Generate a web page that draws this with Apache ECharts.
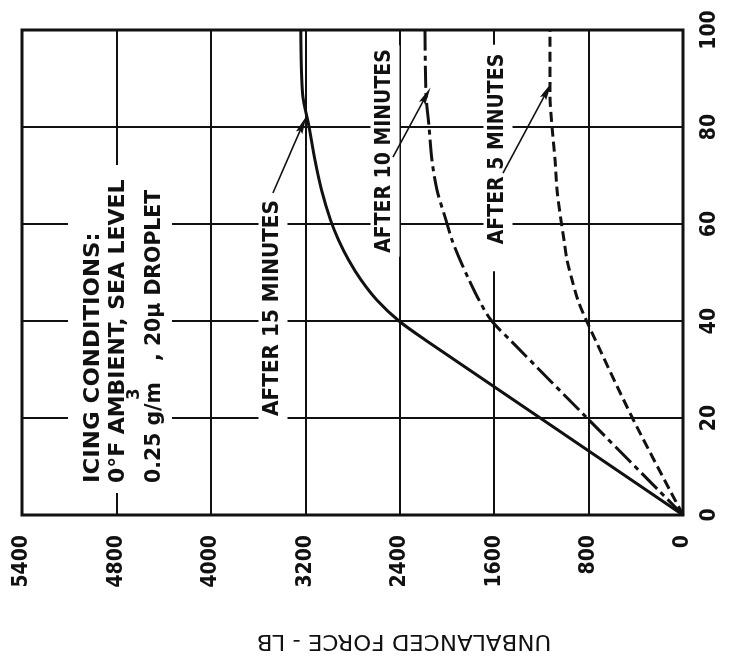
<!DOCTYPE html>
<html>
<head>
<meta charset="utf-8">
<script src="https://cdn.jsdelivr.net/npm/echarts@6/dist/echarts.min.js"></script>
<style>
  html, body { margin: 0; padding: 0; background: #fff; }
  #chart { width: 739px; height: 663px; }
</style>
</head>
<body>
<div id="chart"></div>
<script>
// Unbalanced force (lb) against percent, for three icing durations.
// Force axis runs right-to-left, percent axis bottom-to-top (page turned sideways).
const forceTickLabels = ['0', '800', '1600', '2400', '3200', '4000', '4800', '5400'];
const percentTickLabels = ['0', '20', '40', '60', '80', '100'];

const after15Force = [0, 2177, 2406, 2592, 2728, 2833, 2918, 2986, 3062, 3118, 3171, 3222, 3238];
const after15Pct   = [0, 36, 40, 44.3, 48.5, 52.6, 56.7, 60.8, 67, 73.2, 80.4, 86.6, 100];

const after10Force = [0, 805, 1449, 1627, 1728, 1813, 1889, 1957, 2008, 2084, 2127, 2152, 2177, 2186];
const after10Pct   = [0, 19.8, 35.7, 40.2, 44.3, 48.5, 52.6, 56.7, 60.8, 67, 73.2, 80.2, 86.6, 100];

const after5Force = [0, 424, 813, 890, 940, 983, 1008, 1034, 1067, 1084, 1110, 1127, 1127];
const after5Pct   = [0, 19.8, 39.8, 44.3, 48.5, 52.6, 56.7, 60.8, 67, 73.2, 80.2, 86.6, 100];

// Leader arrows: [fromForce, fromPct, toForce, toPct]
const arrow15 = [3474, 66.4, 3222, 80.5];
const arrow10 = [2457, 73.8, 2175, 86.5];
const arrow5  = [1525, 70.5, 1150, 87.5];

const INK = '#111';
const condFont = '"DejaVu Sans Condensed", "Liberation Sans Narrow", sans-serif';

function pairs(xs, ys) { return xs.map((x, i) => [x, ys[i]]); }

// Slim filled arrowhead, pointing up
const arrowHead = 'path://M5,0 L10,24 L5,20 L0,24 Z';

function leader(a) {
  return {
    silent: true,
    symbol: ['none', arrowHead],
    symbolSize: [7, 18],
    lineStyle: { color: INK, width: 1.6, type: 'solid' },
    itemStyle: { color: INK },
    label: { show: false },
    emphasis: { disabled: true },
    animation: false,
    data: [[{ coord: [a[0], a[1]] }, { coord: [a[2], a[3]] }]]
  };
}

function curve(name, xs, ys, dash, a) {
  return {
    name: name,
    type: 'line',
    data: pairs(xs, ys),
    showSymbol: false,
    smooth: 0.3,
    lineStyle: { color: INK, width: 3, type: dash, cap: 'butt' },
    z: 3,
    markLine: leader(a)
  };
}

const chart = echarts.init(document.getElementById('chart'), null, { renderer: 'canvas' });

const rotText = (text, x, y, opts) => Object.assign({
  type: 'text', x: x, y: y, rotation: Math.PI / 2, z: 1,
  style: Object.assign({
    text: text,
    font: 'bold 21px ' + condFont,
    fill: INK,
    align: 'center',
    verticalAlign: 'middle'
  }, opts && opts.style)
}, opts && opts.el);

const noteStyle = { align: 'left' };

chart.setOption({
  animation: false,
  backgroundColor: '#fff',
  grid: {
    left: 22, right: 56, top: 30, bottom: 148,
    show: true, borderColor: INK, borderWidth: 3, backgroundColor: 'transparent'
  },
  xAxis: {
    type: 'value',
    inverse: true,
    min: 0, max: 5600, interval: 800,
    axisLine: { show: false },
    axisTick: { show: false },
    splitLine: { show: true, lineStyle: { color: INK, width: 2 } },
    axisLabel: {
      rotate: 90,
      margin: 20,
      color: INK,
      fontFamily: condFont,
      fontWeight: 'bold',
      fontSize: 21,
      formatter: v => forceTickLabels[Math.round(v / 800)]
    }
  },
  yAxis: {
    type: 'value',
    position: 'right',
    min: 0, max: 100, interval: 20,
    axisLine: { show: false },
    axisTick: { show: false },
    splitLine: { show: true, lineStyle: { color: INK, width: 2 } },
    axisLabel: {
      rotate: 90,
      margin: 16,
      color: INK,
      fontFamily: condFont,
      fontWeight: 'bold',
      fontSize: 21,
      formatter: v => percentTickLabels[Math.round(v / 20)]
    }
  },
  series: [
    curve('AFTER 15 MINUTES', after15Force, after15Pct, 'solid', arrow15),
    curve('AFTER 10 MINUTES', after10Force, after10Pct, [22, 5, 5, 5], arrow10),
    curve('AFTER 5 MINUTES', after5Force, after5Pct, [10, 5], arrow5)
  ],
  graphic: [
    // blank panel behind the icing-conditions note
    { type: 'rect', z: 1, shape: { x: 68, y: 165, width: 104, height: 328 }, style: { fill: '#fff' } },
    rotText('ICING CONDITIONS:', 94, 483, { style: noteStyle, el: { scaleX: 1.21 } }),
    rotText('0°F AMBIENT, SEA LEVEL', 119, 483, { style: noteStyle, el: { scaleX: 1.16 } }),
    rotText('0.25 g/m   , 20\u00b5 DROPLET', 155, 483, { style: noteStyle, el: { scaleX: 1.08 } }),
    rotText('3', 134, 394, { style: { font: 'bold 18px ' + condFont } }),
    rotText('AFTER 15 MINUTES', 273, 308, { style: { backgroundColor: '#fff', padding: [4, 6, 4, 6] }, el: { scaleX: 1.06 } }),
    rotText('AFTER 10 MINUTES', 385, 151, { style: { backgroundColor: '#fff', padding: [4, 4, 4, 4] } }),
    rotText('AFTER 5 MINUTES', 498, 158, { style: { backgroundColor: '#fff', padding: [4, 9, 4, 27] } }),
    {
      type: 'text', x: 404, y: 640, rotation: Math.PI, z: 1, scaleX: 1.09,
      style: {
        text: 'UNBALANCED FORCE - LB',
        font: '21px "DejaVu Sans", sans-serif',
        fill: INK, align: 'center', verticalAlign: 'middle'
      }
    }
  ]
});
</script>
</body>
</html>
